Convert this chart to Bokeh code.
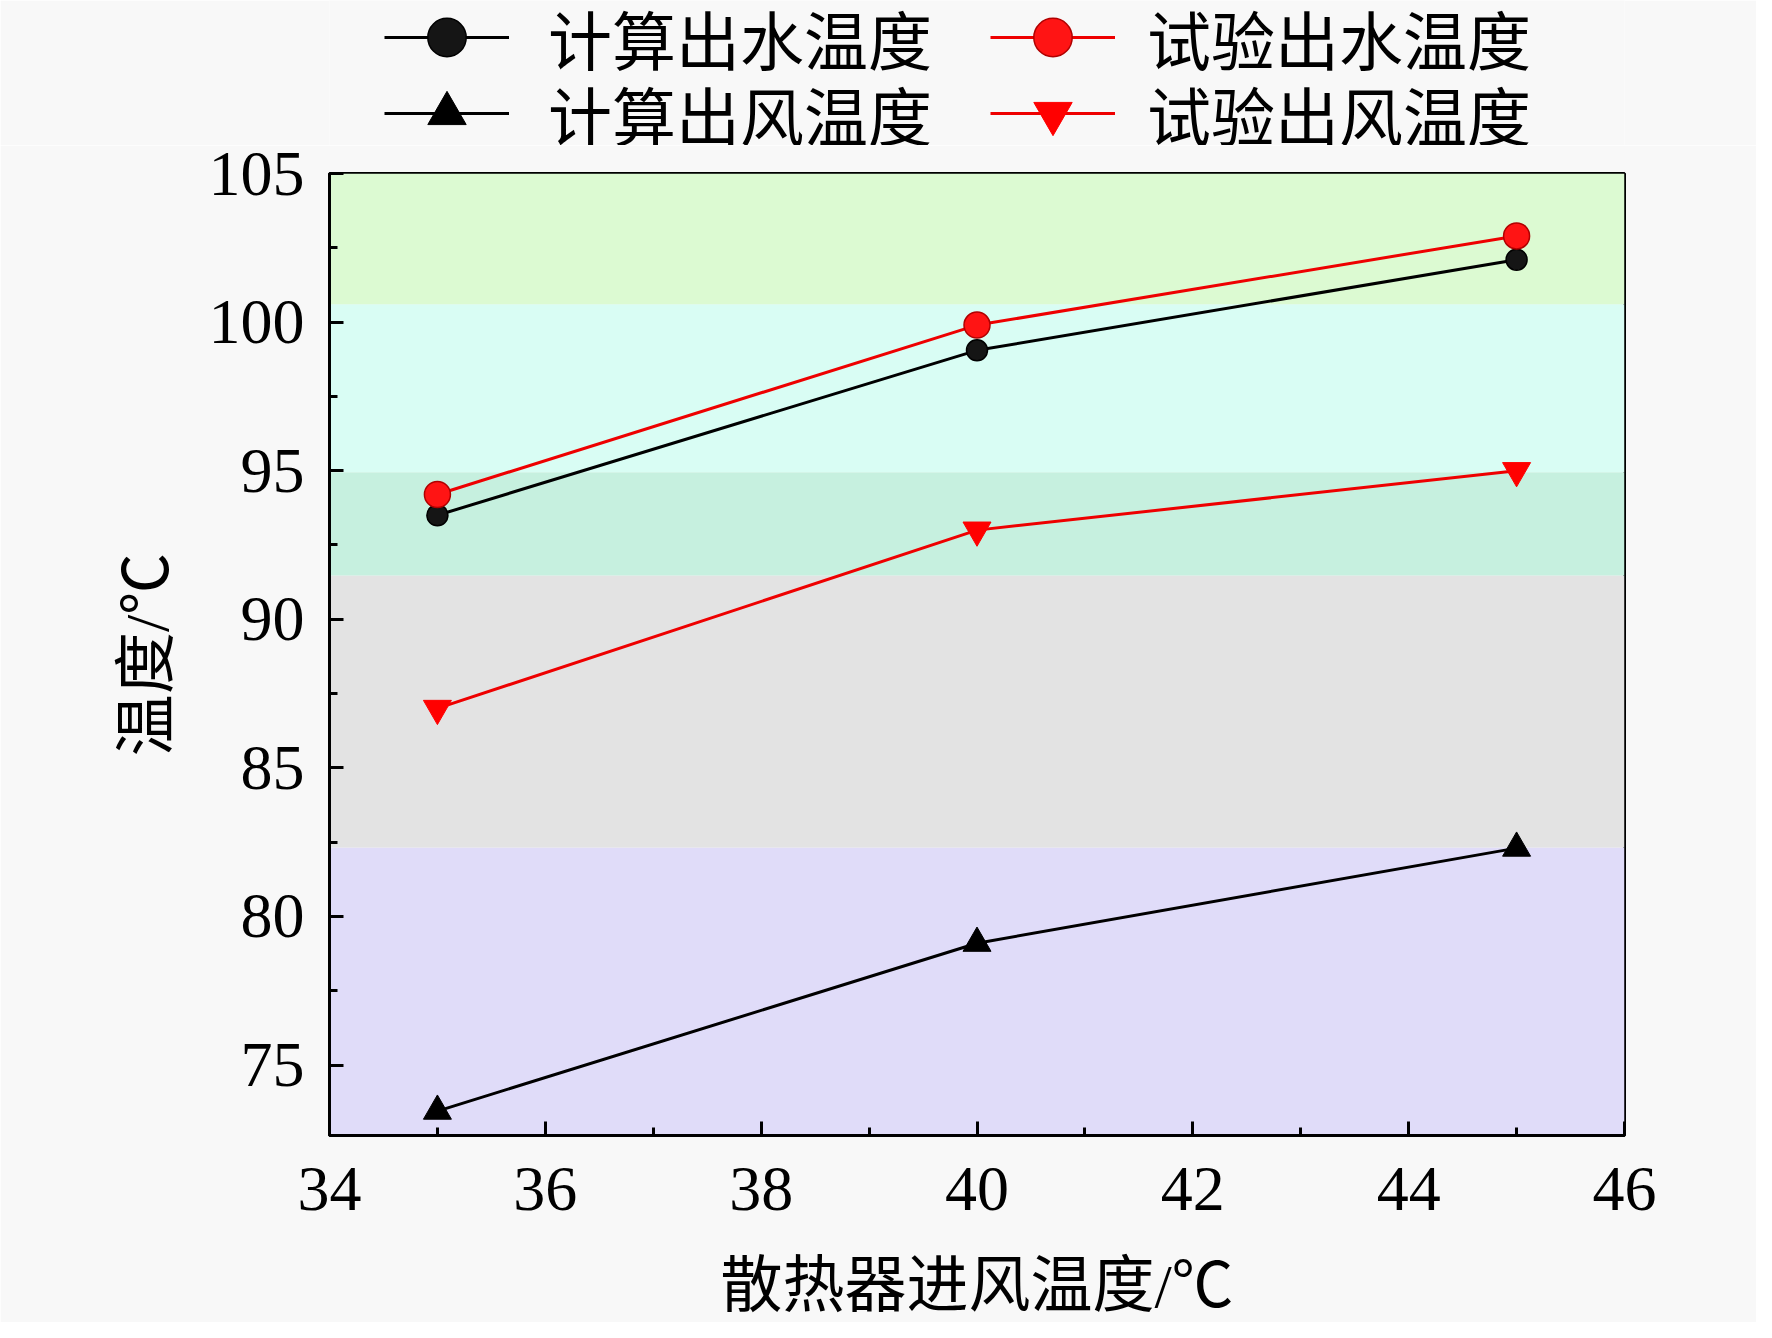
from bokeh.plotting import figure
from bokeh.layouts import column
from bokeh.models import FixedTicker, BoxAnnotation, Legend, LegendItem
from bokeh.embed import file_html
from bokeh.resources import INLINE

# ---- data ----
x_air_in = [35, 40, 45]
calc_water_out = [93.5, 99.05, 102.1]
test_water_out = [94.2, 99.9, 102.9]
calc_air_out = [73.45, 79.1, 82.3]
test_air_out = [87.0, 93.0, 95.0]

labels = ["计算出水温度", "试验出水温度", "计算出风温度", "试验出风温度"]
x_ticks = [34, 36, 38, 40, 42, 44, 46]
x_minor = [35, 37, 39, 41, 43, 45]
y_ticks = [75, 80, 85, 90, 95, 100, 105]
y_minor = [77.5, 82.5, 87.5, 92.5, 97.5, 102.5]
band_edges = [72.63, 82.32, 91.47, 94.95, 100.6, 105]
band_colors = ["#e0dcf9", "#e3e3e3", "#c6f0df", "#d9fdf4", "#dcfad2"]

x_label = "散热器进风温度/℃"
y_label = "温度/℃"

SERIF = "Liberation Serif"
MIX = "Liberation Serif, Noto Sans CJK SC"
CJK = "Noto Sans CJK SC"
BG = "#f8f8f8"

styles = [
    dict(line=dict(line_color="black", line_width=3),
         marker=dict(marker="circle", size=21, fill_color="#151515", line_color="black", line_width=1.5)),
    dict(line=dict(line_color="#ee0000", line_width=3),
         marker=dict(marker="circle", size=26, fill_color="#ff1414", line_color="#b00000", line_width=1.5)),
    dict(line=dict(line_color="black", line_width=3),
         marker=dict(marker="triangle", size=28, fill_color="black", line_color="black")),
    dict(line=dict(line_color="#ee0000", line_width=3),
         marker=dict(marker="inverted_triangle", size=28, fill_color="#ff0000", line_color="#ff0000")),
]
series = [calc_water_out, test_water_out, calc_air_out, test_air_out]

LEG_H = 145
TOP = 28

# ---------------- main plot ----------------
p = figure(width=1756, height=1322 - LEG_H, x_range=(34, 46), y_range=(band_edges[0], band_edges[-1]),
           output_backend="svg", toolbar_location=None,
           min_border_left=329, min_border_right=132, min_border_top=TOP, min_border_bottom=187)
p.background_fill_color = BG
p.border_fill_color = BG
p.outline_line_color = "black"
p.outline_line_width = 3
p.xgrid.visible = False
p.ygrid.visible = False

for i, c in enumerate(band_colors):
    p.add_layout(BoxAnnotation(bottom=band_edges[i], top=band_edges[i + 1],
                               fill_color=c, fill_alpha=1.0, line_alpha=0, level="underlay"))

p.xaxis.ticker = FixedTicker(ticks=x_ticks, minor_ticks=x_minor)
p.yaxis.ticker = FixedTicker(ticks=y_ticks, minor_ticks=y_minor)
for ax in (p.xaxis[0], p.yaxis[0]):
    ax.axis_line_width = 3
    ax.axis_line_color = "black"
    ax.major_tick_line_width = 3
    ax.minor_tick_line_width = 3
    ax.major_tick_in = 14
    ax.major_tick_out = 0
    ax.minor_tick_in = 8
    ax.minor_tick_out = 0
    ax.major_label_text_font = SERIF
    ax.major_label_text_font_size = "64px"
    ax.major_label_text_color = "black"
    ax.axis_label_text_font = MIX
    ax.axis_label_text_font_size = "62px"
    ax.axis_label_text_font_style = "normal"
    ax.axis_label_text_color = "black"
p.xaxis.axis_label = x_label
p.yaxis.axis_label = y_label
p.xaxis.major_label_standoff = 32
p.xaxis.axis_label_standoff = 39
p.yaxis.major_label_standoff = 25
p.yaxis.axis_label_standoff = 25

for ys, st in zip(series, styles):
    p.line(x_air_in, ys, **st["line"])
for ys, st in zip(series, styles):
    p.scatter(x_air_in, ys, **st["marker"])

# ---------------- legend strip above the plot ----------------
# (its frame is aligned with the main frame by the column layout)
lg = figure(width=1756, height=LEG_H, x_range=(0, 1), y_range=(0, 1),
            output_backend="svg", toolbar_location=None,
            x_axis_location=None, y_axis_location=None,
            min_border_left=0, min_border_right=0, min_border_top=0, min_border_bottom=0)
lg.background_fill_color = BG
lg.border_fill_color = BG
lg.outline_line_color = None
lg.xgrid.visible = False
lg.ygrid.visible = False

leg_x = [55, 661, 55, 661]      # offsets from the frame's left edge
leg_y = [60, 60, -16, -16]      # offsets of each entry's bottom from the strip bottom
leg_standoff = [39, 32, 39, 32]
for i, (ys, st) in enumerate(zip(series, styles)):
    # same series drawn off-view, used only as legend sources
    lr = lg.line(x_air_in, ys, **st["line"])
    sr = lg.scatter(x_air_in, ys, **st["marker"])
    leg = Legend(items=[LegendItem(label=labels[i], renderers=[lr, sr])],
                 location=(leg_x[i], leg_y[i]), orientation="vertical",
                 background_fill_alpha=0, border_line_alpha=0,
                 padding=0, margin=0, spacing=0, glyph_width=125, glyph_height=96,
                 label_standoff=leg_standoff[i], label_height=96, label_text_font=CJK,
                 label_text_font_size="64px", label_text_color="black")
    lg.add_layout(leg)

layout = column(lg, p, spacing=0)
open("out.html", "w").write(file_html(layout, INLINE))
